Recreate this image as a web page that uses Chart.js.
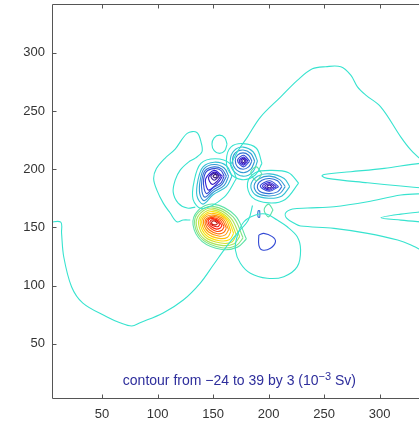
<!DOCTYPE html>
<html>
<head>
<meta charset="utf-8">
<script src="https://cdn.jsdelivr.net/npm/chart.js@4.4.1/dist/chart.umd.min.js"></script>
<style>
  html, body { margin: 0; padding: 0; background: #fff; overflow: hidden; }
  #wrap { width: 419px; height: 422px; overflow: hidden; }
  canvas { display: block; }
</style>
</head>
<body>
<div id="wrap"><canvas id="contour" width="430" height="422"></canvas></div>
<script>
// contour levels, 10^-3 Sv
const levelMin = -24;
const levelMax = 39;

const xTicks = [50, 100, 150, 200, 250, 300];
const yTicks = [50, 100, 150, 200, 250, 300];

const caption = 'contour from \u221224 to 39 by 3 (10';
const captionSup = '\u22123';
const captionTail = ' Sv)';
const captionAt = [173.7, 18.8];

// zero contour lines (open)
const leftSweep = [[3,154.5],[12.9,154.5],[13.6,145.1],[15.6,124.5],[22.6,99],[32.8,84.9],[54.2,73.2],[66.2,68],[76.8,65.2],[84.3,68],[105.1,76.4],[123.2,87.5],[138.5,102.1],[150.2,117.6],[161.1,132.2],[171.9,145.1],[181.8,156.3],[185.5,168.8]];
const upperLoop = [[165.6,203.5],[172.8,216.4],[180.9,227.6],[192.7,244.8],[210.7,262.0],[226.1,276.6],[239.4,286.3],[251.4,288.1],[265.0,288.0],[274.0,280.8],[280.0,270.8],[287.5,263.7],[301.1,253.4],[319.1,227.6],[328.2,216.4],[342,204]];
const fingerUpper = [[342,204.5],[336.3,205.0],[304.1,200.7],[274.0,197.8],[249.9,195.5],[248.2,194.1],[252.9,192.1],[289.1,188.3],[319.1,185.5],[342,183.6]];
const fingerLower = [[342,179],[319.1,177.8],[289.1,172.0],[258.9,167.7],[234.9,166.6],[221.6,165.7],[215.3,162.3],[216.2,158.0],[224.3,152.8],[228.8,151.1],[258.9,149.1],[289.1,144.8],[316.2,139.1],[328.2,134.8],[342,128]];
const innerWedge = [[342,163.8],[319.1,161.4],[301.1,158.2],[319.1,156.2],[342,154.3]];
const leftLobe = [[129.5,156.3],[123.2,156.3],[117.4,154.8],[111.4,162.3],[105.3,170.6],[99.4,182.0],[96.5,192],[99,200.5],[106.9,209.6],[115.9,217.3],[126.7,230.8],[135.4,231.6],[139.4,222.4],[140.0,214.9],[134.0,209.5],[127.9,206.1],[120.4,199.2],[115.9,190.6],[114.1,180.3],[118.6,170.9],[126.7,166.6],[134.0,167.4]];

// zero contour rings (closed)
const zeroRings = [
  [[207.8,156.3],[216.8,150.5],[225.8,141.9],[228.8,130.5],[225.8,116.2],[213.7,107.6],[198.7,106.2],[183.6,110.5],[174.6,119.1],[170.1,130.5],[171.6,141.9],[177.6,154.6],[188.2,160.6],[198.1,161.4]],
  [[162.6,221.5],[160.6,227],[155.8,229.3],[151,227],[149,221.5],[151,216],[155.8,213.6],[160.6,216]],
  [[171,192],[165,205],[152,209],[139,205],[133,190],[132,174],[140,166],[160,176]],
  [[194,205],[189,218],[177,222],[166,219],[162,208],[165,197],[176,191],[188,195]],
  [[227,188],[218,197],[202,199],[188,197],[181,188],[185,176],[200,171],[215,174]]
];

// small isolated rings and their levels
const smallLevels = [-12, -9, 3, 3];
const smallRings = [
  [[191.2,143.4],[195.7,144.8],[203.3,142.0],[206.2,137.7],[201.7,132.0],[194.3,130.5],[191.2,134.8]],
  [[192,164.5],[190.5,164],[190.5,159],[192,158.8]],
  [[194,196],[189,202],[184,197],[189,190]],
  [[204,165],[200,170],[196,165],[200,159]]
];

// positive peak near (151, 153)
const redLevels = [3, 6, 9, 12, 15, 18, 21, 24, 27, 30, 33, 36];
const redRings = [
  [[180,140],[170,160],[150,170],[136,164],[132,152],[140,138],[158,131],[172,133]],
  [[177,141],[168,159],[150,168],[137,163],[133.5,152],[141,139],[158,132.5],[171,134.5]],
  [[174,142],[166,158],[150,166.5],[138.5,162],[135,152],[142,140],[157.5,134.5],[169,136]],
  [[171,143.5],[164,157.5],[150,165],[140,161],[137,152.5],[143,141.5],[157,136.5],[167,137.5]],
  [[168.5,145],[162.5,157.5],[150,163.5],[141,160],[138.5,153],[144,143],[156,138.5],[165,139.5]],
  [[166,146.5],[161,157.5],[150,162],[142,159.5],[140,153],[145,144.5],[155.5,140.5],[163,141.5]],
  [[164,148],[159.5,157],[150,160.5],[143,158.5],[141.5,153],[146,146],[155,142.5],[161,143.5]],
  [[162,149.5],[158,156.5],[150,159.5],[144,157.5],[143,153],[147,147.5],[154,144.5],[159.5,145.5]],
  [[160,150.5],[156.5,156],[150,158.5],[145,157],[144.5,153],[148,149],[153.5,146.5],[158,147.5]],
  [[158,151.5],[155,155.5],[150,157.5],[146,156.5],[146,153],[148.5,150.5],[153,148.5],[156.5,149.5]],
  [[156,152.5],[153.5,155.5],[150,156.5],[147.5,155.5],[147.5,153],[149.5,151.5],[153,150.5],[155,151]],
  [[154,153.3],[152,155.3],[150,155.5],[148.8,154.5],[149,153],[150.5,152.3],[153,152.3]]
];

// negative peak near (152, 194)
const blueALevels = [-3, -6, -9, -12, -15, -18, -21, -24];
const blueARings = [
  [[167,194],[162,203],[151,206],[141,202],[136.5,191],[135.5,177],[141,170],[150,178],[162,185]],
  [[164,194],[160,201],[151,204],[142,200.5],[138.5,191],[138,179],[142,173],[150,180],[160,186]],
  [[162,194],[158,200],[151,202],[143,199],[140,191],[140,181],[143,176],[150,182],[158,187]],
  [[160,194],[157,199],[151,200.5],[144,198],[141.5,191],[142,183],[144.5,179],[150,184],[157,188]],
  [[158.5,194],[151,199],[143.5,192],[144,185],[146.5,182],[155,189]],
  [[157,194],[151.5,197.5],[146,193],[149,187],[154,190]],
  [[155.5,194],[151.5,196.5],[148,194],[151,190.5]],
  [[154,194],[152,195.5],[150,194],[152,192.5]]
];

// negative peak near (177, 207)
const blueBLevels = [-3, -6, -9, -12, -15, -18, -21];
const blueBRings = [
  [[190,207],[186,215],[177,219],[169,216],[165.5,208],[168,199],[177,194],[186,198]],
  [[187.5,207],[184,213.5],[177,216.5],[170,214],[167.5,207.5],[170,200.5],[177,197],[184,200]],
  [[185,207],[182,212],[177,214],[172,212],[170,207.5],[172,202],[177,200],[182,202]],
  [[183,207],[177.5,212],[172,207.5],[177.5,202]],
  [[181.5,207],[177.5,210.5],[173.5,207],[177.5,203.5]],
  [[180,207],[177.5,209.5],[175,207],[177.5,204.5]],
  [[179,207],[177.5,208.3],[176,207],[177.5,205.7]]
];

// negative peak near (200, 185)
const blueCLevels = [-3, -6, -9, -12, -15, -18, -21];
const blueCRings = [
  [[219,185],[214,192],[201,196],[190,194],[184,186],[188,178],[200,175],[212,177]],
  [[215,185],[210,191],[201,194],[192,192],[187,186],[190,179.5],[200,177],[210,179]],
  [[212,185],[208,190],[201,192],[194,190.5],[190,186],[192,181],[200,179],[208,180.5]],
  [[209,185],[201,190],[192.5,185.5],[200.5,181]],
  [[207,185],[201,188.5],[194.5,185.5],[200.5,182]],
  [[205,185],[201,187.5],[196.5,185.3],[200.5,183]],
  [[203,185],[200.7,186.5],[198.5,185.2],[200.5,184]]
];

function jet(v) {
  const t = (v - levelMin) / (levelMax - levelMin);
  const c = (a) => Math.max(0, Math.min(1, a)) * 255;
  const r = c(Math.min(4 * t - 1.5, -4 * t + 4.5));
  const g = c(Math.min(4 * t - 0.5, -4 * t + 3.5));
  const b = c(Math.min(4 * t + 0.5, -4 * t + 2.5));
  // soften toward the washed-out look of the original print
  return `rgb(${Math.round(0.8 * r + 50)},${Math.round(0.82 * g + 18)},${Math.round(0.8 * b + 8)})`;
}

const datasets = [];

function addLine(points, level, closed) {
  const pts = closed ? points.concat([points[0]]) : points;
  datasets.push({
    data: pts.map(([x, y]) => ({ x, y })),
    showLine: true,
    borderColor: jet(level),
    borderWidth: 1.1,
    pointRadius: 0,
    tension: 0.35
  });
}

[leftSweep, upperLoop, fingerUpper, fingerLower, innerWedge, leftLobe].forEach(p => addLine(p, 0, false));
zeroRings.forEach(p => addLine(p, 0, true));
smallRings.forEach((p, i) => addLine(p, smallLevels[i], true));
redRings.forEach((p, i) => addLine(p, redLevels[i], true));
blueARings.forEach((p, i) => addLine(p, blueALevels[i], true));
blueBRings.forEach((p, i) => addLine(p, blueBLevels[i], true));
blueCRings.forEach((p, i) => addLine(p, blueCLevels[i], true));

const axisColor = '#555';

const framePlugin = {
  id: 'frame',
  afterDatasetsDraw(chart) {
    const { ctx, chartArea: a, scales } = chart;
    const L = Math.round(a.left) + 0.5, R = Math.round(a.right) + 0.5;
    const T = Math.round(a.top) + 0.5, B = Math.round(a.bottom) + 0.5;
    ctx.save();
    ctx.strokeStyle = axisColor;
    ctx.lineWidth = 1;
    ctx.beginPath();
    ctx.moveTo(L, T); ctx.lineTo(R, T); ctx.lineTo(R, B); ctx.lineTo(L, B); ctx.closePath();
    xTicks.forEach(v => {
      const px = Math.round(scales.x.getPixelForValue(v)) + 0.5;
      ctx.moveTo(px, B); ctx.lineTo(px, B - 4);
      ctx.moveTo(px, T); ctx.lineTo(px, T + 4);
    });
    yTicks.forEach(v => {
      const py = Math.round(scales.y.getPixelForValue(v)) + 0.5;
      ctx.moveTo(L, py); ctx.lineTo(L + 4, py);
      ctx.moveTo(R, py); ctx.lineTo(R - 4, py);
    });
    ctx.stroke();
    ctx.restore();
  }
};

const captionPlugin = {
  id: 'caption',
  afterDraw(chart) {
    const { ctx, scales } = chart;
    const cx = scales.x.getPixelForValue(captionAt[0]);
    const cy = scales.y.getPixelForValue(captionAt[1]);
    const mainFont = '14px "Liberation Sans", Arial, sans-serif';
    const supFont = '11px "Liberation Sans", Arial, sans-serif';
    ctx.save();
    ctx.fillStyle = '#2e2e9c';
    ctx.textBaseline = 'alphabetic';
    ctx.font = mainFont;
    const w1 = ctx.measureText(caption).width;
    const w3 = ctx.measureText(captionTail).width;
    ctx.font = supFont;
    const w2 = ctx.measureText(captionSup).width;
    let x = cx - (w1 + w2 + w3) / 2;
    const base = cy + 5;
    ctx.font = mainFont;
    ctx.fillText(caption, x, base);
    x += w1;
    ctx.font = supFont;
    ctx.fillText(captionSup, x, base - 5);
    x += w2;
    ctx.font = mainFont;
    ctx.fillText(captionTail, x, base);
    ctx.restore();
  }
};

const tickFont = { family: '"Liberation Sans", Arial, sans-serif', size: 13 };

function noEdgePadding(s) {
  s.paddingTop = 0;
  s.paddingBottom = 0;
  s.paddingLeft = 0;
  s.paddingRight = 0;
}

new Chart(document.getElementById('contour'), {
  type: 'scatter',
  data: { datasets },
  options: {
    responsive: false,
    animation: false,
    layout: { padding: { top: 4, right: 7, left: 0, bottom: 0 } },
    plugins: { legend: { display: false }, tooltip: { enabled: false } },
    scales: {
      x: {
        type: 'linear', min: 5, max: 339,
        grid: { display: false, drawTicks: false },
        border: { display: false },
        afterBuildTicks: s => { s.ticks = xTicks.map(v => ({ value: v })); },
        afterFit: s => { s.height = 24; noEdgePadding(s); },
        ticks: { color: '#333', font: tickFont, padding: 9, maxRotation: 0, autoSkip: false }
      },
      y: {
        type: 'linear', min: 3.3, max: 342,
        grid: { display: false, drawTicks: false },
        border: { display: false },
        afterBuildTicks: s => { s.ticks = yTicks.map(v => ({ value: v })); },
        afterFit: s => { s.width = 52; noEdgePadding(s); },
        ticks: { color: '#333', font: tickFont, padding: 7, autoSkip: false }
      }
    }
  },
  plugins: [framePlugin, captionPlugin]
});
</script>
</body>
</html>
